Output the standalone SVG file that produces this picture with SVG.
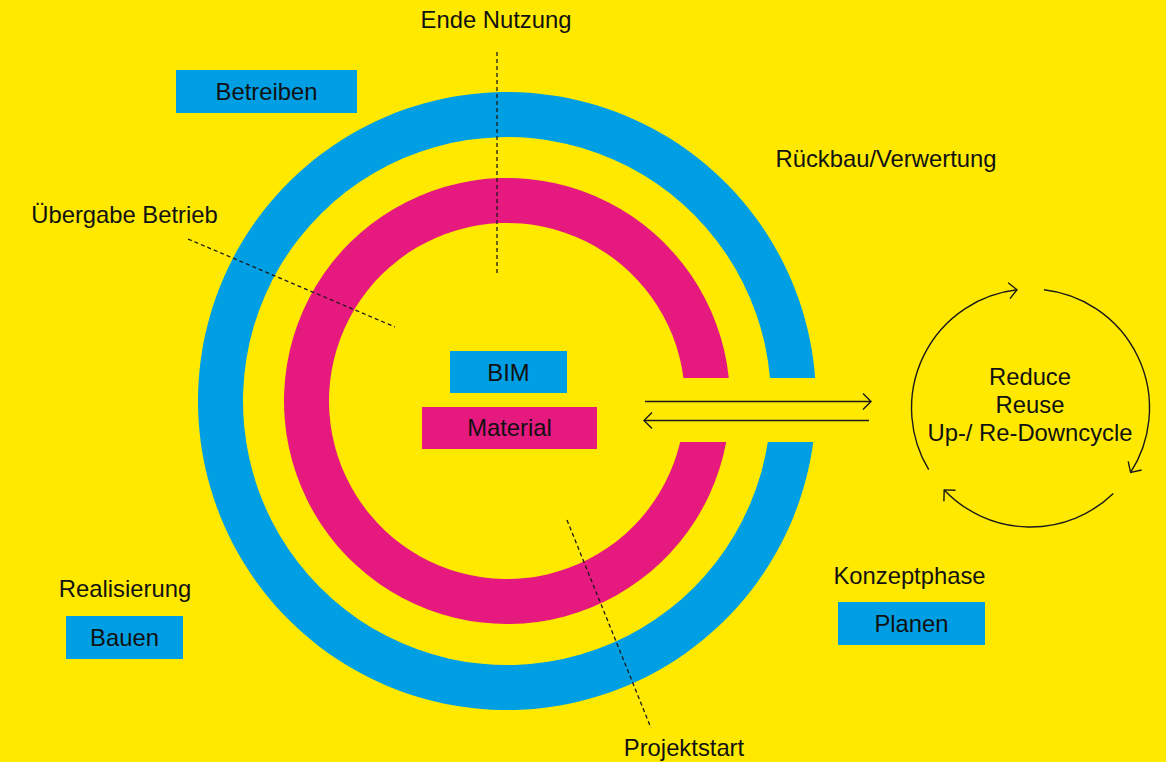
<svg xmlns="http://www.w3.org/2000/svg" width="1166" height="762" viewBox="0 0 1166 762">
<style>
text{font-family:"Liberation Sans",Arial,sans-serif;font-size:23.8px;fill:#111;text-anchor:middle}
.blue{fill:#009FE3}
.pink{fill:#E6197F}
.dash{fill:none;stroke:#1a1a1a;stroke-width:1.3;stroke-dasharray:4 3}
.ln{fill:none;stroke:#1a1a1a;stroke-width:1.4}
</style>
<defs>
<marker id="chev" viewBox="-12 -10 14 20" markerWidth="14" markerHeight="20" refX="0" refY="0" orient="auto" markerUnits="userSpaceOnUse">
<path d="M-8,-8 L0,0 L-8,8" fill="none" stroke="#1a1a1a" stroke-width="1.4"/>
</marker>
</defs>
<rect width="1166" height="762" fill="#FFE900"/>
<g id="ring-blue">
<path class="blue" d="M815.14,378 A309,309 0 1 0 813.27,442 L767.8,442 A264,264 0 1 1 769.99,378 Z"/>
</g>
<g id="ring-pink">
<path class="pink" d="M728.81,378 A223,223 0 1 0 726.2,442 L680.21,442 A178,178 0 1 1 683.51,378 Z"/>
</g>
<g id="connectors">
<line class="dash" x1="497" y1="52" x2="497" y2="276"/>
<line class="dash" x1="188" y1="239" x2="395" y2="327"/>
<line class="dash" x1="567" y1="520" x2="651" y2="728"/>
<line class="ln" x1="645" y1="401.5" x2="871" y2="401.5" marker-end="url(#chev)"/>
<line class="ln" x1="869" y1="420.5" x2="644" y2="420.5" marker-end="url(#chev)"/>
<path class="ln" d="M928.7,469.6 A119,119 0 0 1 1017,289.8" marker-end="url(#chev)"/>
<path class="ln" d="M1044,289.8 A119,119 0 0 1 1130.6,472.4" marker-end="url(#chev)"/>
<path class="ln" d="M1113.3,493.5 A119,119 0 0 1 944.2,489.9" marker-end="url(#chev)"/>
</g>
<g id="ende-nutzung"><text x="496" y="28">Ende Nutzung</text></g>
<g id="betreiben"><rect class="blue" x="176" y="70" width="181" height="43"/><text x="266.5" y="100">Betreiben</text></g>
<g id="rueckbau"><text x="886" y="167">Rückbau/Verwertung</text></g>
<g id="uebergabe"><text x="124.5" y="223">Übergabe Betrieb</text></g>
<g id="bim"><rect class="blue" x="450" y="351" width="117" height="42"/><text x="508.5" y="381">BIM</text></g>
<g id="material"><rect class="pink" x="422" y="407" width="175" height="42"/><text x="509.5" y="436">Material</text></g>
<g id="cycle"><text x="1030" y="384.5">Reduce</text><text x="1030" y="412.5">Reuse</text><text x="1030" y="440.5">Up-/ Re-Downcycle</text></g>
<g id="realisierung"><text x="125" y="597">Realisierung</text></g>
<g id="bauen"><rect class="blue" x="66" y="616" width="117" height="43"/><text x="124.5" y="646">Bauen</text></g>
<g id="konzeptphase"><text x="909.5" y="584">Konzeptphase</text></g>
<g id="planen"><rect class="blue" x="838" y="602" width="147" height="43"/><text x="911.5" y="632">Planen</text></g>
<g id="projektstart"><text x="684" y="756">Projektstart</text></g>
</svg>
